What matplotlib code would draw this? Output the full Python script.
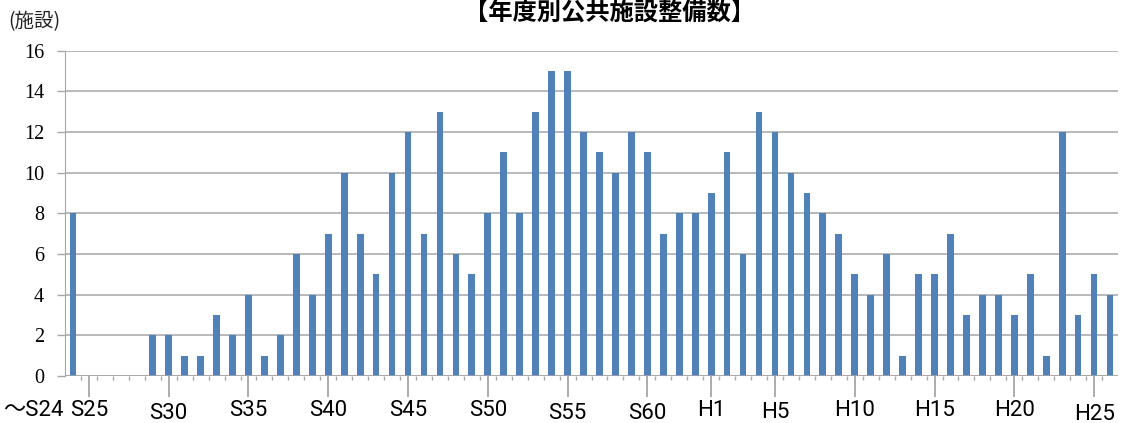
import numpy as np
import matplotlib.pyplot as plt
from matplotlib import font_manager as fm

# 年度ラベル (~S24, S25..S63, H1..H26)
years = ["～S24"] + ["S%d" % n for n in range(25, 64)] + ["H%d" % n for n in range(1, 27)]
counts = [8, 0, 0, 0, 0, 2, 2, 1, 1, 3, 2, 4, 1, 2, 6, 4, 7, 10, 7, 5,
          10, 12, 7, 13, 6, 5, 8, 11, 8, 13, 15, 15, 12, 11, 10, 12, 11, 7, 8, 8,
          9, 11, 6, 13, 12, 10, 9, 8, 7, 5, 4, 6, 1, 5, 5, 7, 3, 4, 4, 3,
          5, 1, 12, 3, 5, 4]
shown = ["～S24", "S25", "S30", "S35", "S40", "S45", "S50", "S55", "S60",
         "H1", "H5", "H10", "H15", "H20", "H25"]
drop = [0, 0, 3, 0, 0, 0, 0, 3, 3, 0, 2, 0, 0, 0, 4]   # px, labels a bit uneven in ref
yticks = list(range(0, 17, 2))

names = {f.name for f in fm.fontManager.ttflist}
narrow = "Liberation Sans Narrow" if "Liberation Sans Narrow" in names else "Roboto"
serif = "Liberation Serif" if "Liberation Serif" in names else "DejaVu Serif"
jp = "Noto Sans CJK JP"

grey = "#a6a6a6"
x = np.arange(len(years))

fig = plt.figure(figsize=(11.21, 4.23), dpi=100)
ax = fig.add_axes([65 / 1121, 1 - 376 / 423, 1053 / 1121, (376 - 50.7) / 423])

ax.bar(x, counts, width=0.42, color="#4f81bd", zorder=3)

ax.set_xlim(-0.5, len(years) - 0.5)
ax.set_ylim(0, 16)
ax.set_yticks(yticks)
ax.yaxis.grid(True, color=grey, linewidth=1.1, zorder=0)

for s in ["top", "right", "bottom"]:
    ax.spines[s].set_visible(False)
ax.spines["left"].set_color(grey)
ax.axhline(0, color=grey, linewidth=1.1, zorder=4)

ax.tick_params(axis="y", length=6, color=grey, width=1, pad=9,
               labelsize=14.5, labelfontfamily=serif)

# long ticks at the labelled years, short ticks between categories
idx = [years.index(s) for s in shown]
ax.set_xticks([i for i in idx if i > 0])
ax.set_xticklabels([])
ax.tick_params(axis="x", which="major", length=15, color=grey, width=1.3)
ax.set_xticks(x[:-1] + 0.5, minor=True)
ax.tick_params(axis="x", which="minor", length=3, color=grey, width=1)

trans = ax.get_xaxis_transform()
h = 376 - 50.7
for s, i, d in zip(shown, idx, drop):
    if i == 0:
        fig.text(3 / 1121, 1 - (410 + d) / 423, s, ha="left", va="center",
                 fontsize=16, family=[narrow, jp])
    else:
        ax.text(i, -(410 + d - 376) / h, s, transform=trans, ha="center", va="center",
                fontsize=16, family=[narrow, jp])

fig.text(610 / 1121, 1 - 13 / 423, "【年度別公共施設整備数】", ha="center", va="center",
         fontsize=17.5, fontweight="bold", family=[jp, "DejaVu Sans"])
fig.text(8 / 1121, 1 - 22 / 423, "(施設)", ha="left", va="center",
         fontsize=14, family=[jp, "DejaVu Sans"], color="#222222")

fig.savefig("out.png", dpi=100)
